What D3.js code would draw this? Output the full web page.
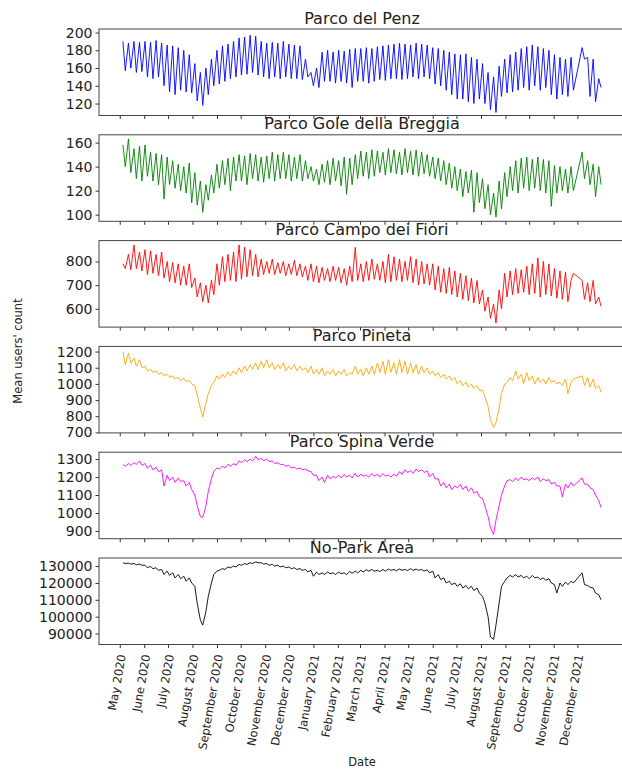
<!DOCTYPE html>
<html><head><meta charset="utf-8">
<script src="https://cdn.jsdelivr.net/npm/d3@7"></script>
<style>
body{margin:0;background:#fff}
svg{display:block}
text{font-family:"DejaVu Sans",sans-serif;fill:#222}
</style>
</head><body>
<svg id="c" width="622" height="769"></svg>
<script>
// ---- data: two readings per week (early-week, late-week), weeks starting 2020-05-05 ----
const firstWeek = "2020-05-05";
const monthTicks = ["May 2020","June 2020","July 2020","August 2020","September 2020","October 2020","November 2020","December 2020","January 2021","February 2021","March 2021","April 2021","May 2021","June 2021","July 2021","August 2021","September 2021","October 2021","November 2021","December 2021"];

const titles = ["Parco del Penz","Parco Gole della Breggia","Parco Campo dei Fiori","Parco Pineta","Parco Spina Verde","No-Park Area"];
const colors = ["blue","green","red","orange","magenta","black"];

const penzEarly = [190,188,190,189,190,189,191,188,186,185,183,180,175,165,155,160,170,180,185,187,190,194,195,197,196,190,188,189,188,190,187,186,185,170,155,160,178,180,178,180,179,181,182,182,183,182,184,185,186,187,188,187,186,188,187,186,183,182,180,178,176,175,176,172,170,165,155,150,162,170,175,178,182,184,186,184,182,180,175,172,170,172,null,183,172,170,148];
const penzLate  = [157,160,155,156,150,148,150,140,133,130,135,133,132,123,118,130,140,142,145,148,150,152,153,155,152,150,148,150,148,150,148,148,147,150,140,138,145,145,143,145,143,138,145,145,143,145,147,146,148,148,147,148,150,148,150,148,142,140,135,130,125,125,122,120,125,120,113,110,128,132,133,135,138,135,140,135,138,130,125,130,128,135,null,170,128,122,138];

const breggiaEarly = [158,163,155,157,158,152,151,150,148,145,142,140,143,135,128,125,133,142,145,147,148,150,149,151,150,148,149,152,150,152,150,148,150,145,140,138,142,145,147,145,148,147,150,153,152,154,153,152,155,154,152,155,153,154,152,150,148,147,145,143,140,138,136,137,135,130,125,118,128,135,140,145,147,148,146,148,146,145,141,140,138,140,null,152,145,142,140];
const breggiaLate  = [140,135,130,128,132,128,125,113,125,122,120,118,110,108,102,112,118,122,125,120,128,128,125,130,128,127,130,128,130,130,128,130,128,130,128,125,127,125,128,124,117,125,130,132,130,132,135,133,135,134,133,135,133,132,134,132,130,128,125,122,120,115,118,102,110,105,100,98,105,115,120,118,122,120,122,120,118,107,118,120,118,120,null,130,125,115,125];

const campoEarly = [790,830,870,840,850,845,830,840,800,795,790,780,790,730,710,700,720,790,820,830,840,870,860,850,830,810,800,810,795,800,790,805,790,780,790,780,775,770,780,775,770,780,860,790,800,810,790,800,830,820,810,800,820,810,800,790,790,780,770,775,760,750,740,730,720,680,650,620,680,750,760,770,765,780,790,815,800,790,770,760,755,720,null,720,710,720,650];
const campoLate  = [770,765,770,760,745,750,740,730,715,710,700,700,690,650,630,625,660,700,715,720,715,725,735,740,735,745,750,745,750,740,745,740,735,720,715,710,720,715,720,710,700,715,720,715,720,725,720,710,715,720,715,720,710,700,705,700,680,670,665,660,650,640,635,625,620,590,560,540,600,650,660,665,670,660,665,650,660,655,645,640,630,750,null,640,630,620,610];

const pinetaEarly = [1200,1190,1160,1150,1110,1090,1080,1070,1060,1050,1040,1035,1020,990,850,880,990,1050,1060,1075,1080,1100,1110,1120,1130,1140,1150,1130,1120,1130,1110,1120,1110,1100,1110,1090,1100,1080,1090,1080,1090,1070,1110,1090,1100,1110,1130,1140,1150,1130,1150,1140,1130,1120,1110,1100,1080,1070,1060,1050,1040,1020,1010,1000,990,960,860,730,850,1000,1040,1080,1060,1070,1050,1040,1030,1040,1020,1010,1030,1010,null,1050,1040,1030,990];
const pinetaLate  = [1120,1130,1110,1100,1080,1070,1060,1050,1040,1030,1020,1015,1000,930,795,940,1010,1030,1040,1050,1060,1070,1080,1090,1090,1100,1100,1090,1095,1080,1090,1080,1085,1070,1060,1060,1050,1060,1050,1060,1050,1060,1060,1050,1060,1060,1070,1060,1070,1060,1070,1060,1070,1060,1070,1060,1050,1040,1030,1020,1000,990,980,970,960,920,780,760,940,1010,1020,1030,1000,1020,1000,1010,1000,1010,1000,990,940,1030,null,990,980,970,950];

const spinaEarly = [1270,1275,1280,1290,1275,1265,1255,1240,1210,1200,1195,1180,1170,1100,980,1040,1190,1250,1260,1270,1275,1290,1295,1300,1315,1305,1300,1290,1280,1270,1265,1255,1250,1245,1230,1210,1200,1210,1205,1210,1215,1210,1220,1215,1210,1220,1215,1220,1210,1215,1230,1240,1235,1245,1240,1235,1220,1190,1170,1160,1150,1160,1150,1140,1120,1080,980,880,1040,1150,1185,1195,1200,1190,1195,1200,1190,1185,1170,1150,1160,1170,null,1195,1160,1130,1070];
const spinaLate  = [1260,1265,1270,1265,1250,1240,1230,1150,1180,1170,1175,1150,1130,1040,975,1120,1230,1245,1250,1260,1265,1280,1285,1290,1295,1290,1285,1275,1270,1260,1250,1245,1240,1235,1210,1180,1170,1190,1195,1195,1200,1195,1200,1205,1200,1205,1200,1205,1200,1205,1215,1225,1220,1230,1225,1200,1190,1150,1140,1130,1140,1130,1120,1110,1090,1040,920,960,1100,1180,1175,1180,1185,1180,1185,1175,1180,1160,1150,1090,1140,1150,null,1160,1140,1100,1030];

const noparkEarly = [132000,131800,131500,131200,130500,129800,129000,128000,127000,126000,125000,124000,123000,118000,98000,103000,120000,127000,128500,129500,130000,131000,131500,132000,132500,132000,131500,131000,130500,130000,129500,129000,128500,128000,127500,126500,126000,126500,126000,126500,126000,126800,127000,127500,127800,128000,127500,128000,128200,128000,128300,128000,128500,128200,128000,127800,127000,125000,123000,121000,120000,119500,118500,118000,117000,112000,100000,86500,108000,121000,124500,125000,124500,124000,124500,123500,123000,122500,119000,120000,120500,121000,null,126000,118500,117000,113000];
const noparkLate  = [131500,131200,130800,130500,129000,128500,127500,125000,124500,123000,122500,121000,120000,108000,95000,112000,125000,127500,128000,129000,129500,130500,131000,131500,132000,131200,130500,130000,129500,129000,128500,128000,127500,126500,124000,125000,125000,125500,125000,125500,125000,125800,126000,126500,127000,127000,126800,127000,127500,127200,127500,127300,127500,127500,127000,126000,123000,122000,120000,119000,118000,117000,116500,115500,114000,108000,88000,95000,118000,123000,123500,123500,123000,122500,123000,122000,121500,120000,114000,118000,119000,120000,null,119000,117500,114000,110000];

const yTickValues = [
  [120,140,160,180,200],
  [100,120,140,160],
  [600,700,800],
  [700,800,900,1000,1100,1200],
  [900,1000,1100,1200,1300],
  [90000,100000,110000,120000,130000]
];
const yDomains = [[106.5,204],[94.5,166.5],[523,888],[697,1232],[857,1338],[83500,134800]];

const series = [[penzEarly,penzLate],[breggiaEarly,breggiaLate],[campoEarly,campoLate],[pinetaEarly,pinetaLate],[spinaEarly,spinaLate],[noparkEarly,noparkLate]];

// ---- layout ----
const L = 99, R = 625, TOP = 29, STEP = 105.8, PH = 86.5;
const svg = d3.select("#c");
const start = d3.timeParse("%Y-%m-%d")(firstWeek);

function build(early, late){
  const pts = [];
  early.forEach((v,k)=>{
    if(v!=null) pts.push({d: d3.timeDay.offset(start, 7*k), v});
    if(late[k]!=null) pts.push({d: d3.timeDay.offset(start, 7*k+3), v: late[k]});
  });
  return pts;
}
const allData = series.map(s=>build(s[0],s[1]));
const ext = d3.extent(allData.flat(), p=>p.d);
const span = ext[1]-ext[0];
const x = d3.scaleTime()
  .domain([new Date(+ext[0]-0.05*span), new Date(+ext[1]+0.05*span)])
  .range([L,R]);
const monthDates = monthTicks.map(d3.timeParse("%B %Y"));

allData.forEach((pts,i)=>{
  const top = TOP + i*STEP, bot = top+PH;
  const y = d3.scaleLinear().domain(yDomains[i]).range([bot, top]);
  const g = svg.append("g");

  g.append("text").attr("x",(L+R)/2).attr("y",top-5.5)
    .attr("text-anchor","middle").attr("font-size",16).text(titles[i]);

  g.append("path").datum(pts)
    .attr("fill","none").attr("stroke",colors[i]).attr("stroke-width",0.9)
    .attr("stroke-linejoin","round")
    .attr("d", d3.line().x(p=>x(p.d)).y(p=>y(p.v)));

  const ya = g.append("g").attr("transform",`translate(${L},0)`)
    .call(d3.axisLeft(y).tickValues(yTickValues[i]).tickSize(3.5).tickPadding(3).tickFormat(d3.format("d")));
  ya.select(".domain").remove();
  ya.selectAll("text").attr("font-size",14).attr("font-family","DejaVu Sans").attr("fill","#222");
  ya.selectAll("line").attr("stroke","#333");

  const xa = g.append("g").attr("transform",`translate(0,${bot})`)
    .call(d3.axisBottom(x).tickValues(monthDates).tickSize(3.5).tickFormat(""));
  xa.select(".domain").remove();
  xa.selectAll("line").attr("stroke","#333");

  g.append("rect").attr("x",L).attr("y",top).attr("width",R-L).attr("height",PH)
    .attr("fill","none").attr("stroke","#444").attr("stroke-width",1);

  if(i===allData.length-1){
    const lab = svg.append("g");
    monthDates.forEach((d,j)=>{
      const t = lab.append("text").attr("font-size",11.5).attr("text-anchor","end")
        .attr("dy","0.35em").text(monthTicks[j]);
      const ex = x(d) + 2, ey = bot + 10;
      t.attr("transform",`translate(${ex},${ey}) rotate(-80)`);
    });
  }
});

svg.append("text").attr("x",(L+R)/2).attr("y",766).attr("text-anchor","middle")
  .attr("font-size",11.5).text("Date");
svg.append("text").attr("transform","translate(22,351) rotate(-90)").attr("text-anchor","middle")
  .attr("font-size",11.5).text("Mean users' count");
</script>
</body></html>
